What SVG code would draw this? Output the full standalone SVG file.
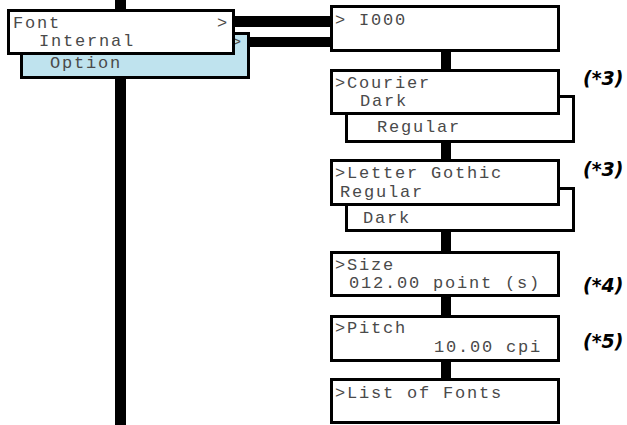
<svg xmlns="http://www.w3.org/2000/svg" width="627" height="425" viewBox="0 0 627 425">
<style>
.box{fill:#fff;stroke:#000;stroke-width:3}
.opt{fill:#bfe3ee;stroke:#000;stroke-width:3}
.lcd{font-family:"Liberation Mono",monospace;font-size:17px;letter-spacing:1.8px;fill:#4a4a4a}
.note{font-family:"DejaVu Sans",sans-serif;font-size:19px;font-weight:bold;font-style:italic;fill:#000}
.bar{fill:#000}
</style>
<rect width="627" height="425" fill="#fff"/>
<g id="connectors">
<rect class="bar" x="115" y="0" width="11" height="425"/>
<rect class="bar" x="234" y="16" width="98" height="11"/>
<rect class="bar" x="248" y="37" width="84" height="10"/>
<rect class="bar" x="441" y="51" width="10" height="19"/>
<rect class="bar" x="441" y="142" width="10" height="18"/>
<rect class="bar" x="441" y="231" width="10" height="21"/>
<rect class="bar" x="441" y="296" width="10" height="20"/>
<rect class="bar" x="441" y="361" width="10" height="18"/>
</g>
<g id="option">
<rect class="opt" x="21.5" y="33.5" width="227" height="44"/>
<text class="lcd" x="231" y="47">&gt;</text>
<text class="lcd" x="50" y="68">Option</text>
</g>
<g id="font">
<rect class="box" x="8.5" y="10.5" width="225" height="43"/>
<text class="lcd" x="13" y="28">Font</text>
<text class="lcd" x="217" y="28">&gt;</text>
<text class="lcd" x="39" y="46">Internal</text>
</g>
<g id="i000">
<rect class="box" x="331.5" y="6.5" width="227" height="44"/>
<text class="lcd" x="335" y="25">&gt; I000</text>
</g>
<g id="courier">
<rect class="box" x="346.5" y="96.5" width="227" height="45"/>
<text class="lcd" x="377" y="132">Regular</text>
<rect class="box" x="331.5" y="70.5" width="227" height="43"/>
<text class="lcd" x="335" y="88">&gt;Courier</text>
<text class="lcd" x="360" y="106">Dark</text>
<text class="note" x="583" y="85">(*3)</text>
</g>
<g id="lettergothic">
<rect class="box" x="346.5" y="188.5" width="227" height="42"/>
<text class="lcd" x="363" y="223">Dark</text>
<rect class="box" x="331.5" y="160.5" width="227" height="44"/>
<text class="lcd" x="335" y="178">&gt;Letter Gothic</text>
<text class="lcd" x="340" y="197">Regular</text>
<text class="note" x="583" y="176">(*3)</text>
</g>
<g id="size">
<rect class="box" x="331.5" y="252.5" width="227" height="43"/>
<text class="lcd" x="335" y="270">&gt;Size</text>
<text class="lcd" x="349" y="288">012.00 point (s)</text>
<text class="note" x="583" y="292">(*4)</text>
</g>
<g id="pitch">
<rect class="box" x="331.5" y="316.5" width="227" height="44"/>
<text class="lcd" x="335" y="333">&gt;Pitch</text>
<text class="lcd" x="434" y="352">10.00 cpi</text>
<text class="note" x="583" y="348">(*5)</text>
</g>
<g id="listoffonts">
<rect class="box" x="331.5" y="379.5" width="227" height="43"/>
<text class="lcd" x="335" y="398">&gt;List of Fonts</text>
</g>
</svg>
